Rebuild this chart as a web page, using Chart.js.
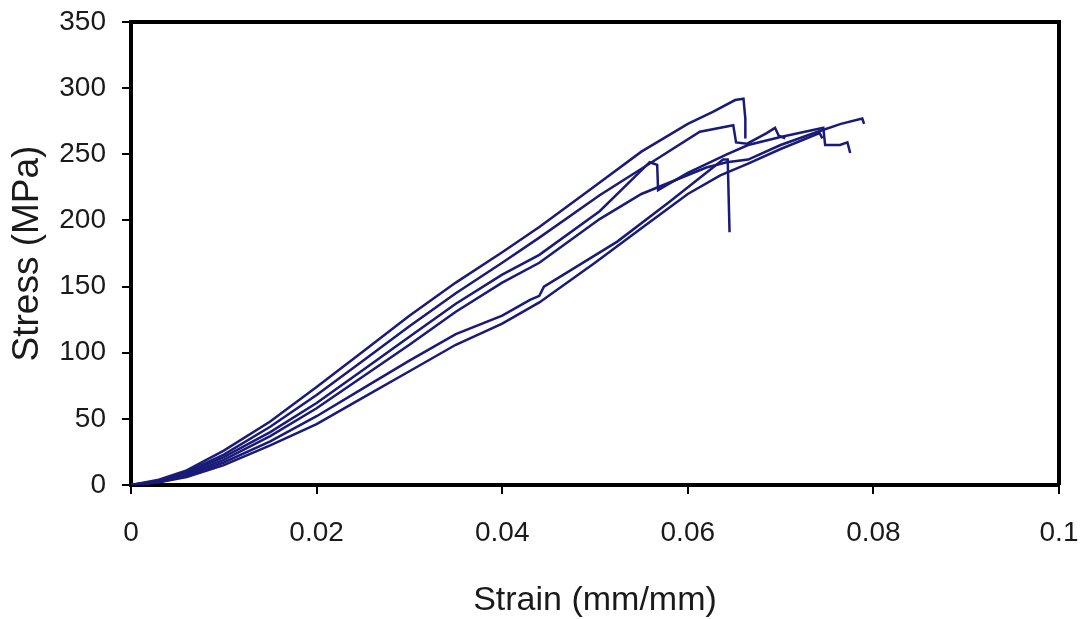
<!DOCTYPE html>
<html>
<head>
<meta charset="utf-8">
<script src="https://cdn.jsdelivr.net/npm/chart.js@4.4.1/dist/chart.umd.min.js"></script>
<style>
  html, body { margin: 0; padding: 0; background: #ffffff; }
  #wrap { width: 1085px; height: 619px; }
</style>
</head>
<body>
<div id="wrap"><canvas id="c" width="1085" height="619"></canvas></div>
<script>
// Tick values and labels
const xTickValues = [0, 0.02, 0.04, 0.06, 0.08, 0.1];
const xTickLabels = ['0', '0.02', '0.04', '0.06', '0.08', '0.1'];
const yTickValues = [0, 50, 100, 150, 200, 250, 300, 350];
const yTickLabels = ['0', '50', '100', '150', '200', '250', '300', '350'];

// Specimen 1 (highest curve)
const strain1 = [0, 0.003, 0.006, 0.01, 0.015, 0.02, 0.025, 0.03, 0.035, 0.04, 0.044, 0.05, 0.055, 0.06, 0.0627, 0.0651, 0.066, 0.0662, 0.0662];
const stress1 = [0, 4, 11, 26, 48, 74, 101, 128, 153, 176, 195, 226, 252, 273, 282, 291, 292, 277, 262];

// Specimen 2
const strain2 = [0, 0.003, 0.006, 0.01, 0.015, 0.02, 0.025, 0.03, 0.035, 0.04, 0.044, 0.0505, 0.0559, 0.0613, 0.0649, 0.0652, 0.0664, 0.0685, 0.0694, 0.0698, 0.0705];
const stress2 = [0, 3, 10, 23, 44, 68, 94, 120, 145, 168, 187, 219, 243, 267, 272, 259, 258, 266, 270, 264, 262];

// Specimen 3
const strain3 = [0, 0.003, 0.006, 0.01, 0.015, 0.02, 0.025, 0.03, 0.035, 0.04, 0.044, 0.0505, 0.0559, 0.0567, 0.0568, 0.06, 0.0642, 0.0665, 0.07, 0.0746, 0.0748, 0.0764, 0.0772, 0.0775];
const stress3 = [0, 3, 9, 21, 40, 62, 87, 112, 137, 159, 174, 207, 244, 242, 223, 236, 250, 257, 263, 270, 257, 257, 259, 251];

// Specimen 4 (longest curve)
const strain4 = [0, 0.003, 0.006, 0.01, 0.015, 0.02, 0.025, 0.03, 0.035, 0.04, 0.044, 0.0505, 0.055, 0.062, 0.0642, 0.0665, 0.07, 0.074, 0.0765, 0.0788, 0.079];
const stress4 = [0, 3, 8, 19, 37, 58, 82, 106, 131, 153, 168, 201, 220, 240, 244, 246, 257, 267, 273, 277, 273];

// Specimen 5 (lowest curve, sudden failure)
const strain5 = [0, 0.003, 0.006, 0.01, 0.015, 0.02, 0.025, 0.03, 0.035, 0.04, 0.043, 0.044, 0.0445, 0.0524, 0.058, 0.0638, 0.0643, 0.0645];
const stress5 = [0, 2, 7, 17, 33, 52, 73, 94, 114, 128, 140, 143, 150, 184, 214, 246, 246, 191];

// Specimen 6
const strain6 = [0, 0.003, 0.006, 0.01, 0.015, 0.02, 0.025, 0.03, 0.035, 0.04, 0.044, 0.05, 0.055, 0.06, 0.0635, 0.0665, 0.07, 0.0742, 0.0745];
const stress6 = [0, 2, 6, 15, 30, 46, 66, 86, 106, 122, 138, 168, 194, 220, 234, 243, 254, 266, 262];

const strains = [strain1, strain2, strain3, strain4, strain5, strain6];
const stresses = [stress1, stress2, stress3, stress4, stress5, stress6];

const lineColor = '#1a1a78';
const datasets = strains.map((sx, i) => ({
  label: 'Specimen ' + (i + 1),
  data: sx.map((x, j) => ({ x: x, y: stresses[i][j] })),
  showLine: true,
  borderColor: lineColor,
  backgroundColor: lineColor,
  borderWidth: 2.5,
  pointRadius: 0,
  tension: 0,
  fill: false
}));

const framePlugin = {
  id: 'frame',
  afterDraw(chart) {
    const { ctx, chartArea: a } = chart;
    ctx.save();
    ctx.strokeStyle = '#000';
    ctx.lineWidth = 4;
    ctx.beginPath();
    ctx.moveTo(a.left, a.top);
    ctx.lineTo(a.right, a.top);
    ctx.lineTo(a.right, a.bottom);
    ctx.stroke();
    ctx.restore();
  }
};

const fontFamily = 'Liberation Sans, Arial, sans-serif';

new Chart(document.getElementById('c'), {
  type: 'scatter',
  data: { datasets: datasets },
  plugins: [framePlugin],
  options: {
    responsive: false,
    animation: false,
    devicePixelRatio: 1,
    layout: { padding: { left: 0, top: 22, right: 26, bottom: 0 } },
    plugins: { legend: { display: false }, tooltip: { enabled: false } },
    scales: {
      x: {
        type: 'linear',
        min: 0, max: 0.1,
        afterFit(s) { s.height = 134; s.paddingLeft = 0; s.paddingRight = 0; },
        afterBuildTicks(s) { s.ticks = xTickValues.map(v => ({ value: v })); },
        border: { display: true, color: '#000', width: 4 },
        grid: { display: true, drawOnChartArea: false, drawTicks: true, tickLength: 9, color: '#000', lineWidth: 2 },
        ticks: {
          color: '#1a1a1a',
          font: { family: fontFamily, size: 28 },
          padding: 22,
          maxRotation: 0,
          autoSkip: false,
          callback: (v, i) => xTickLabels[i]
        },
        title: {
          display: true,
          text: 'Strain (mm/mm)',
          color: '#1a1a1a',
          font: { family: fontFamily, size: 34, lineHeight: 1.1 },
          padding: { top: 0, bottom: 0 }
        }
      },
      y: {
        type: 'linear',
        min: 0, max: 350,
        afterFit(s) { s.width = 131; s.paddingTop = 0; s.paddingBottom = 0; },
        afterBuildTicks(s) { s.ticks = yTickValues.map(v => ({ value: v })); },
        border: { display: true, color: '#000', width: 4 },
        grid: { display: true, drawOnChartArea: false, drawTicks: true, tickLength: 9, color: '#000', lineWidth: 2 },
        ticks: {
          color: '#1a1a1a',
          font: { family: fontFamily, size: 28 },
          padding: 16,
          autoSkip: false,
          callback: (v, i) => yTickLabels[i]
        },
        title: {
          display: true,
          text: 'Stress (MPa)',
          color: '#1a1a1a',
          font: { family: fontFamily, size: 37, lineHeight: 1.2 },
          padding: { top: 6, bottom: 0 }
        }
      }
    }
  }
});
</script>
</body>
</html>
